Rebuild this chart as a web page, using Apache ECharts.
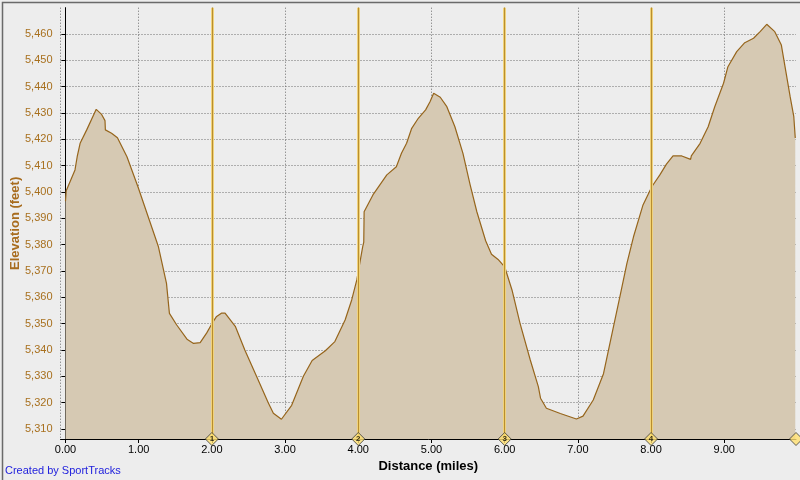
<!DOCTYPE html>
<html>
<head>
<meta charset="utf-8">
<script src="https://cdn.jsdelivr.net/npm/echarts@6/dist/echarts.min.js"></script>
<style>
html,body{margin:0;padding:0;background:#EDEDED;}
#chart{width:800px;height:480px;}
</style>
</head>
<body>
<div id="chart"></div>
<script>
// Distance (miles)
const distance = [
  0.00, 0.01, 0.13, 0.16, 0.20, 0.29, 0.42, 0.49, 0.54, 0.545, 0.63, 0.71, 0.84, 0.99,
  1.13, 1.27, 1.38, 1.42, 1.52, 1.66, 1.75, 1.84, 1.93, 2.00, 2.06, 2.13, 2.18, 2.32,
  2.45, 2.61, 2.77, 2.84, 2.95, 3.09, 3.25, 3.37, 3.55, 3.68, 3.82, 3.91, 3.98, 4.06,
  4.075, 4.08, 4.20, 4.39, 4.52, 4.59, 4.66, 4.73, 4.82, 4.92, 4.98, 5.03, 5.12, 5.21,
  5.32, 5.43, 5.53, 5.62, 5.74, 5.82, 5.91, 6.00, 6.10, 6.21, 6.35, 6.46, 6.49, 6.57,
  6.76, 6.98, 7.07, 7.21, 7.35, 7.48, 7.58, 7.67, 7.76, 7.89, 8.01, 8.12, 8.21, 8.30,
  8.42, 8.54, 8.55, 8.67, 8.78, 8.87, 8.99, 9.05, 9.17, 9.28, 9.40, 9.49, 9.58, 9.69,
  9.78, 9.83, 9.90, 9.95, 9.97
];
// Elevation (feet)
const elevation = [
  5396.5, 5400.5, 5408.4, 5413.4, 5418.5, 5423.6, 5431.4, 5429.6, 5427.1, 5423.6, 5422.3, 5420.6, 5413.4, 5402.0,
  5390.6, 5379.2, 5365.3, 5353.9, 5349.5, 5344.1, 5342.5, 5342.8, 5346.5, 5350.0, 5352.6, 5354.0, 5354.0, 5349.0,
  5340.0, 5330.0, 5320.0, 5316.0, 5313.7, 5319.0, 5330.0, 5336.0, 5339.7, 5343.2, 5351.4, 5359.0, 5366.6, 5379.2,
  5381.0, 5392.5, 5398.9, 5406.5, 5409.6, 5414.7, 5418.5, 5424.2, 5428.0, 5431.2, 5434.3, 5437.5, 5436.0, 5432.4,
  5424.8, 5414.7, 5402.5, 5392.5, 5381.5, 5376.4, 5374.4, 5371.6, 5362.8, 5350.1, 5336.2, 5326.1, 5321.7, 5317.9,
  5315.9, 5313.8, 5314.9, 5321.0, 5331.0, 5348.0, 5361.0, 5372.9, 5383.0, 5395.1, 5402.0, 5406.5, 5410.6, 5413.7,
  5413.7, 5412.4, 5413.7, 5418.5, 5424.8, 5432.4, 5441.3, 5447.6, 5453.3, 5456.7, 5458.4, 5460.9, 5463.7, 5460.9,
  5455.8, 5447.6, 5436.2, 5428.6, 5420.5
];
// Lap markers
const lapDistance = [2, 4, 6, 8, 9.98];
const lapLabels = ['1', '2', '3', '4', ''];

const xMin = -0.068, xMax = 9.98;
const yMin = 5306.2, yMax = 5470;

const profile = distance.map((d, i) => [d, elevation[i]]);
const lapPoints = lapDistance.map((d, i) => [d, yMin, lapLabels[i]]);
const lapLines = lapDistance.slice(0, 4).map(d => ({ xAxis: d }));

const chart = echarts.init(document.getElementById('chart'), null, { renderer: 'canvas' });
const font = 'Liberation Sans, Arial, sans-serif';

chart.setOption({
  backgroundColor: '#EDEDED',
  animation: false,
  grid: { left: 60.5, right: 4, top: 7.7, bottom: 41, containLabel: false, outerBoundsMode: 'none' },
  xAxis: {
    type: 'value',
    min: xMin, max: xMax,
    splitNumber: 10,
    name: 'Distance (miles)',
    nameLocation: 'middle',
    nameGap: 21,
    nameTextStyle: { fontFamily: font, fontSize: 13, fontWeight: 'bold', color: '#000' },
    axisLine: { show: true, onZero: false, lineStyle: { color: '#000', width: 1 } },
    axisTick: { show: true, length: 4, lineStyle: { color: '#000' } },
    axisLabel: {
      show: true, margin: 5, showMinLabel: false, showMaxLabel: false,
      fontFamily: font, fontSize: 11, color: '#000',
      formatter: v => v.toFixed(2)
    },
    splitLine: { show: true, showMinLine: true, showMaxLine: false, lineStyle: { color: '#6e6e6e', type: [1, 2], width: 1 } }
  },
  yAxis: {
    type: 'value',
    min: yMin, max: yMax,
    splitNumber: 16,
    name: 'Elevation (feet)',
    nameLocation: 'middle',
    nameGap: 39,
    nameRotate: 90,
    nameMoveOverlap: false,
    nameTextStyle: { fontFamily: font, fontSize: 13, fontWeight: 'bold', color: '#A86C1E' },
    axisLine: { show: true, lineStyle: { color: '#000', width: 1 } },
    axisTick: { show: true, length: 4, lineStyle: { color: '#000' } },
    axisLabel: {
      show: true, margin: 8, showMinLabel: false, showMaxLabel: false,
      fontFamily: font, fontSize: 11, color: '#A8701E',
      formatter: v => (Math.abs(v % 10) < 1e-6 ? v.toLocaleString('en-US') : '')
    },
    splitLine: { show: true, showMinLine: false, showMaxLine: false, lineStyle: { color: '#6e6e6e', type: [1, 2], width: 1 } }
  },
  series: [
    {
      type: 'line',
      data: profile,
      showSymbol: false,
      smooth: false,
      lineStyle: { color: '#96651C', width: 1.2 },
      areaStyle: { color: '#D6C9B3', opacity: 1, origin: 'start' },
      z: 2,
      markLine: {
        silent: true, symbol: 'none', label: { show: false },
        lineStyle: { color: '#F0D27A', width: 3, type: 'solid', opacity: 1 },
        data: lapLines
      }
    },
    {
      type: 'line',
      data: [],
      z: 3,
      markLine: {
        silent: true, symbol: 'none', label: { show: false },
        lineStyle: { color: '#B88E30', width: 1, type: 'solid', opacity: 1 },
        data: lapLines
      }
    },
    {
      type: 'scatter',
      data: lapPoints,
      clip: false,
      symbol: 'diamond',
      symbolSize: 13,
      z: 10,
      itemStyle: { color: '#FFE070', borderColor: '#3a3a3a', borderWidth: 1 },
      label: {
        show: true, position: 'inside',
        formatter: p => p.value[2],
        fontFamily: font, fontSize: 8, fontWeight: 'bold', color: '#000'
      }
    }
  ],
  graphic: [
    {
      type: 'text', left: 5, top: 465,
      style: { text: 'Created by SportTracks', fill: '#2222DD', font: '11px Liberation Sans, Arial, sans-serif' }
    },
    {
      type: 'rect', left: 0, top: 0, silent: true,
      shape: { x: 0, y: 0, width: 799, height: 479 },
      style: { fill: 'none', stroke: '#6a6a6a', lineWidth: 1.5 }
    }
  ]
});
</script>
</body>
</html>
